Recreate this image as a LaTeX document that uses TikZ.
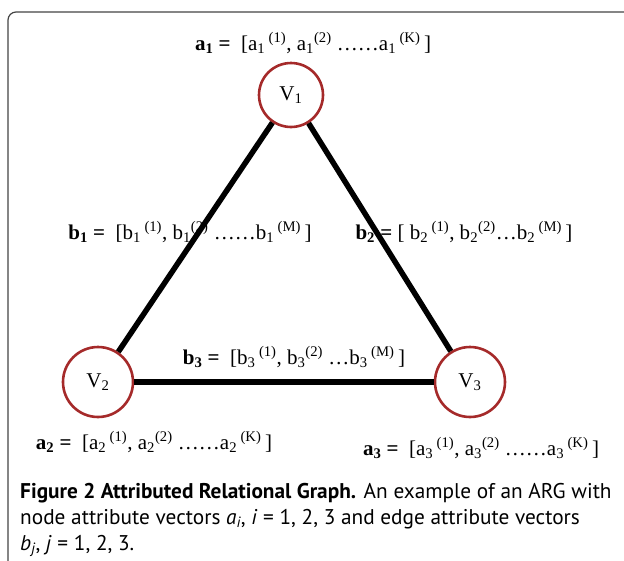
\documentclass[tikz,border=0pt]{standalone}
\usepackage{fontspec}
\setmainfont{Liberation Serif}
\newfontfamily\capfont{PT Sans}
\usetikzlibrary{positioning}
\definecolor{argRed}{HTML}{A52A2A}
\definecolor{argFrame}{HTML}{444444}
\newcommand{\vlab}[4]{\textbf{#1\textsubscript{#2} =}\ \ [#1\textsubscript{#2}\,\textsuperscript{(1)}, #1\textsubscript{#2}\textsuperscript{(2)}#4#1\textsubscript{#2}\,\textsuperscript{(#3)}\,]}
\begin{document}
\begin{tikzpicture}[x=1pt,y=-1pt,
  vert/.style={circle, draw=argRed, line width=2.6pt, fill=white, minimum size=64pt, inner sep=0pt, font=\fontsize{21}{21}\selectfont},
  edge/.style={line width=5.5pt, black},
  vec/.style={font=\fontsize{21}{22}\selectfont, inner sep=1pt},
  caption/.style={font=\capfont\fontsize{21.3}{26}\selectfont, align=left, anchor=north west, inner sep=0pt},
]
\useasboundingbox (0,0) rectangle (624,560);
\clip (0,0) rectangle (624,560);
% ---- frame ----
\draw[argFrame, line width=1.2pt, rounded corners=8pt] (8,12) rectangle (660,600);
% ---- vertices ----
\node[vert] (v1) at (291,95) {V\textsubscript{1}};
\node[vert, minimum size=70pt] (v2) at (98,382) {V\textsubscript{2}};
\node[vert, minimum size=70pt] (v3) at (470,382) {V\textsubscript{3}};
% ---- attribute vectors ----
\node[vec] (a1lab) at (313,43) {\vlab{a}{1}{K}{ \ldots\ldots}};
\node[vec] (b1lab) at (190,232) {\vlab{b}{1}{M}{ \ldots\ldots}};
\node[vec] (b2lab) at (464,232) {\textbf{b\textsubscript{2} =}\ [ b\textsubscript{2}\,\textsuperscript{(1)}, b\textsubscript{2}\textsuperscript{(2)}\ldots b\textsubscript{2}\,\textsuperscript{(M)}\,]};
\node[vec] (b3lab) at (294,357) {\vlab{b}{3}{M}{ \ldots}};
\node[vec] (a2lab) at (154,442) {\vlab{a}{2}{K}{ \ldots\ldots}};
\node[vec] (a3lab) at (481,448) {\vlab{a}{3}{K}{ \ldots\ldots}};
% ---- edges ----
\draw[edge] (v1) -- (v2);
\draw[edge] (v1) -- (v3);
\draw[edge] (v2) -- (v3);
% ---- caption ----
\node[caption] (cap) at (20,483) {\textbf{Figure 2 Attributed Relational Graph.} An example of an ARG with\\
node attribute vectors \textit{a\textsubscript{i}}, \textit{i} = 1, 2, 3 and edge attribute vectors\\
\textit{b\textsubscript{j}}, \textit{j} = 1, 2, 3.};
\end{tikzpicture}
\end{document}
